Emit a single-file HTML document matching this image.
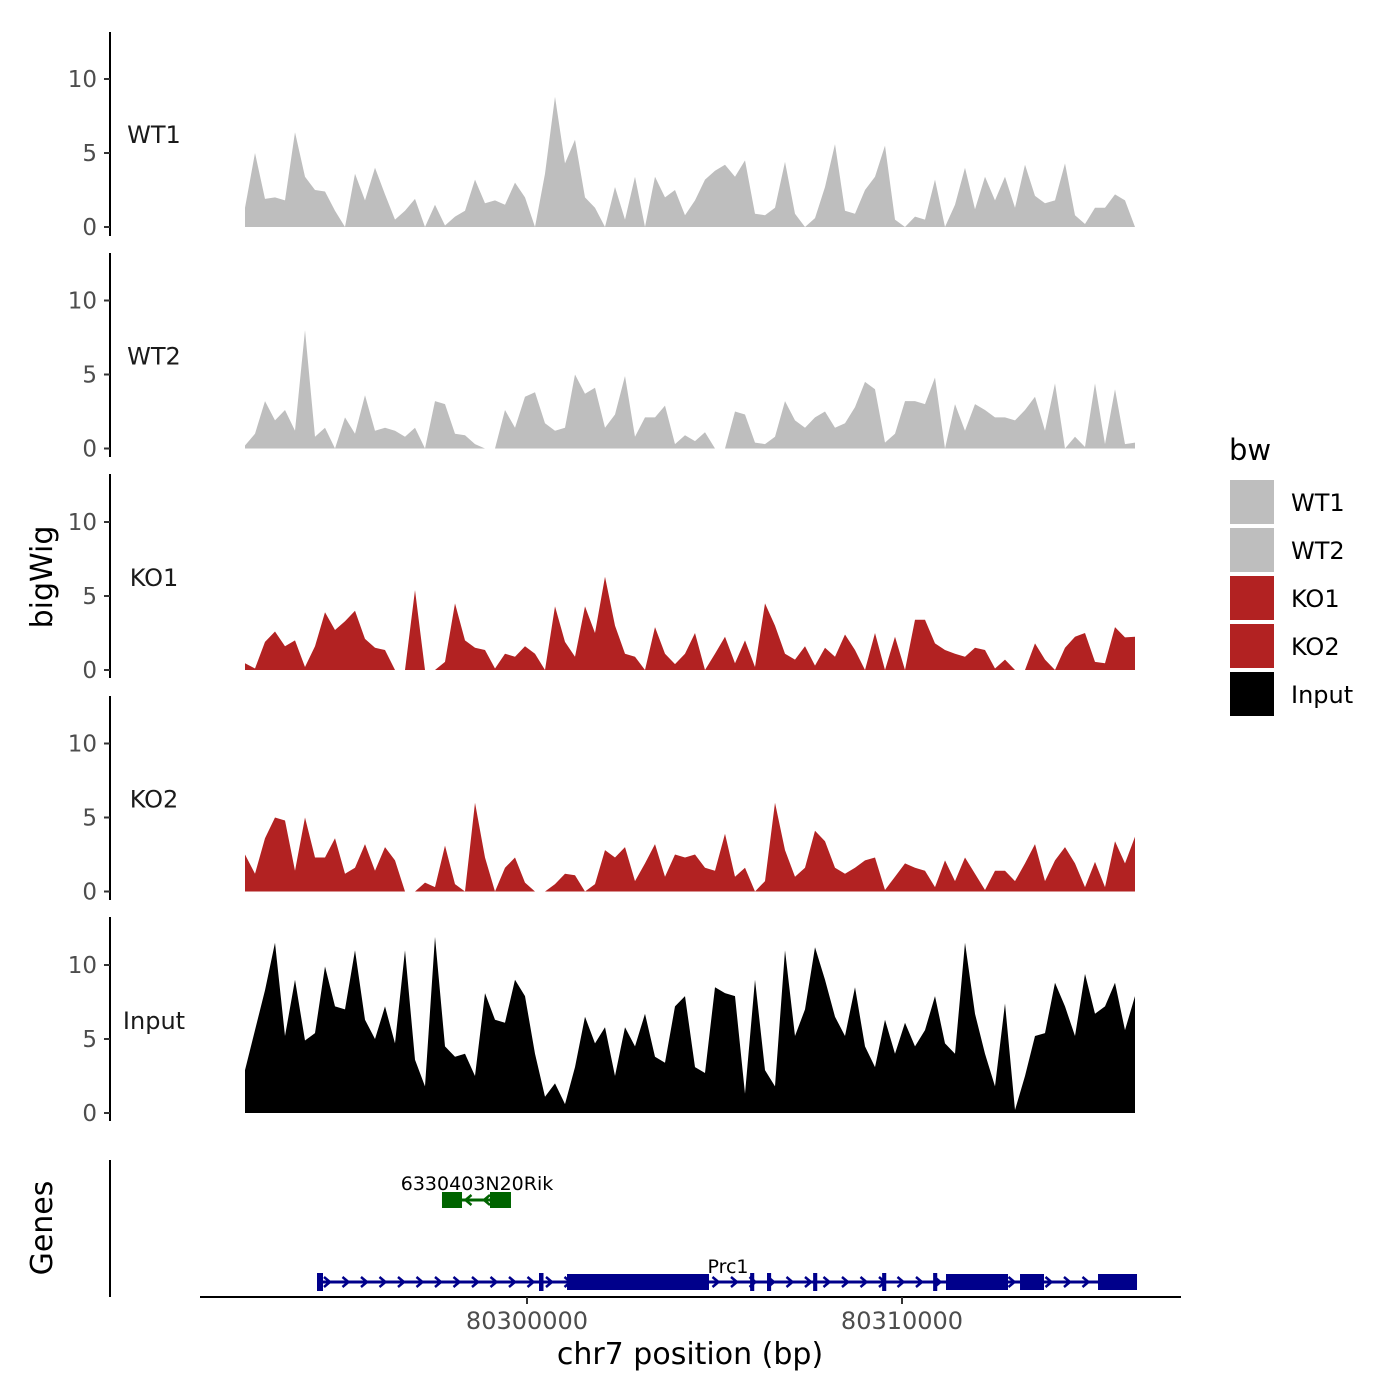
<!DOCTYPE html>
<html><head><meta charset="utf-8">
<style>
html,body{margin:0;padding:0;background:#fff;}
svg{display:block;font-family:"DejaVu Sans","Liberation Sans",sans-serif;}
</style></head>
<body>
<svg id="chart" width="1400" height="1400" viewBox="0 0 1400 1400" xmlns="http://www.w3.org/2000/svg">
<rect width="1400" height="1400" fill="#fff"/>
<text x="52" y="577" font-size="30" fill="#000" text-anchor="middle" transform="rotate(-90 52 577)">bigWig</text>
<text x="52" y="1228" font-size="30" fill="#000" text-anchor="middle" transform="rotate(-90 52 1228)">Genes</text>
<text x="690" y="1364" font-size="30" fill="#000" text-anchor="middle">chr7 position (bp)</text>
<g id="legend">
<text x="1229" y="460" font-size="29" fill="#000">bw</text>
</g>
</svg>
<script>
// ---- data ----
const trackNames = ["WT1","WT2","KO1","KO2","Input"];
const trackColors = ["#bebebe","#bebebe","#b22222","#b22222","#000000"];
const binStart = 80292480;
const binSize = 266.67;
const wt1Values = [1.3,5,1.9,2.0,1.8,6.4,3.4,2.5,2.4,1.1,0,3.6,1.8,4,2.2,0.5,1.1,1.9,0,1.5,0.1,0.7,1.1,3.2,1.6,1.8,1.5,3.0,2.0,0,3.6,8.8,4.3,5.9,2.0,1.3,0,2.7,0.5,3.4,0,3.4,2,2.5,0.8,1.8,3.2,3.8,4.2,3.4,4.5,0.9,0.8,1.3,4.4,0.9,0,0.6,2.7,5.6,1.1,0.9,2.5,3.4,5.5,0.5,0,0.7,0.5,3.2,0,1.5,4,1.2,3.4,1.8,3.4,1.3,4.2,2.1,1.6,1.8,4.3,0.8,0.2,1.3,1.3,2.2,1.8,0];
const wt2Values = [0.2,1.0,3.2,1.9,2.6,1.2,8.0,0.8,1.4,0,2.1,1.0,3.6,1.2,1.4,1.2,0.8,1.4,0,3.2,3.0,1.0,0.9,0.3,0,0,2.6,1.4,3.5,3.8,1.7,1.2,1.4,5.0,3.7,4.1,1.4,2.3,4.9,0.8,2.1,2.1,2.9,0.3,0.9,0.5,1.1,0,0,2.5,2.3,0.4,0.3,0.8,3.2,1.9,1.4,2.1,2.5,1.4,1.7,2.8,4.5,4.0,0.4,1.0,3.2,3.2,3.0,4.8,0,3.0,1.2,3.0,2.6,2.1,2.1,1.9,2.6,3.5,1.2,4.4,0,0.8,0.1,4.4,0.3,4.0,0.3,0.4];
const ko1Values = [0.45,0.1,1.9,2.6,1.6,2.0,0.2,1.6,3.9,2.7,3.3,4.0,2.1,1.5,1.35,0,0,5.4,0,0,0.55,4.5,2.0,1.5,1.35,0.1,1.1,0.9,1.6,1.1,0,4.3,1.9,0.9,4.3,2.5,6.3,3.0,1.1,0.9,0,2.9,1.1,0.4,1.1,2.5,0,1.1,2.25,0.45,2.0,0.2,4.5,3.0,1.1,0.7,1.6,0.3,1.5,0.9,2.4,1.35,0,2.5,0,2.25,0,3.4,3.4,1.8,1.35,1.1,0.9,1.5,1.35,0.1,0.7,0,0,1.8,0.7,0,1.5,2.25,2.5,0.55,0.45,2.9,2.2,2.25];
const ko2Values = [2.5,1.2,3.6,5.0,4.8,1.4,5.0,2.3,2.3,3.6,1.2,1.6,3.2,1.4,3.0,2.1,0,0,0.6,0.3,3.1,0.5,0,6.0,2.3,0,1.6,2.3,0.6,0,0,0.5,1.2,1.1,0,0.5,2.8,2.3,3.0,0.7,1.9,3.2,1.0,2.5,2.3,2.5,1.6,1.4,3.9,1.0,1.6,0,0.7,6.0,2.8,1.0,1.6,4.1,3.4,1.6,1.2,1.6,2.1,2.3,0.1,1.0,1.9,1.6,1.4,0.3,2.1,0.7,2.3,1.2,0.1,1.4,1.4,0.7,1.9,3.2,0.7,2.1,3.0,1.9,0.3,2.0,0.3,3.4,1.9,3.7];
const inputValues = [2.9,5.6,8.3,11.5,5.2,9.0,4.9,5.4,9.9,7.2,7.0,11.0,6.3,5.0,7.2,4.7,11.0,3.6,1.8,11.9,4.5,3.8,4.0,2.5,8.1,6.3,6.1,9.0,7.9,4.0,1.1,2.0,0.6,3.1,6.5,4.7,5.8,2.5,5.8,4.5,6.7,3.8,3.4,7.2,7.9,3.1,2.7,8.5,8.1,7.9,1.3,9.0,2.9,1.8,11.0,5.2,7.0,11.2,9.0,6.5,5.2,8.5,4.5,3.1,6.3,4.0,6.1,4.5,5.6,7.9,4.7,4.0,11.5,6.7,4.0,1.8,7.4,0.2,2.5,5.2,5.4,8.8,7.2,5.2,9.4,6.7,7.2,8.8,5.6,7.9];
const yTicks = [0,5,10];
const xTicks = [80300000,80310000];
const xTickLabels = ["80300000","80310000"];
const prc1Exons = [[80294400,80294560],[80300320,80300440],[80301067,80304853],[80305950,80306060],[80306400,80306510],[80307630,80307740],[80309470,80309580],[80310830,80310940],[80311173,80312827],[80313147,80313787],[80315227,80316267]];
const prc1Span = [80294453,80316267];
const rikExons = [[80297733,80298267],[80299013,80299573]];
const rikSpan = [80297733,80299573];
// ---- scales ----
const svg = document.getElementById('chart');
const NS = 'http://www.w3.org/2000/svg';
function xScale(bp){ return 527 + (bp - 80300000) / 1000 * 37.5; }
const panelBase = [227, 448.5, 670, 891.5, 1113];
function yScale(v, p){ return panelBase[p] - v * 14.8; }
function mk(tag, attrs){ const e = document.createElementNS(NS, tag); for (const k in attrs) e.setAttribute(k, attrs[k]); svg.appendChild(e); return e; }
const allValues = [wt1Values, wt2Values, ko1Values, ko2Values, inputValues];
const axisTop = [32,253,474,696,917];
for (let p = 0; p < 5; p++) {
  const vals = allValues[p];
  let d = 'M' + xScale(binStart).toFixed(1) + ',' + panelBase[p];
  vals.forEach((v, i) => { d += ' L' + xScale(binStart + i * binSize).toFixed(1) + ',' + yScale(v, p).toFixed(1); });
  d += ' L' + xScale(binStart + (vals.length - 1) * binSize).toFixed(1) + ',' + panelBase[p] + ' Z';
  const area = mk('path', {d: d, fill: trackColors[p]});
  
  
  const ax = mk('line', {x1: 110, x2: 110, y1: axisTop[p], y2: axisTop[p] + 204, stroke: '#000', 'stroke-width': 2});
  
  
  yTicks.forEach(t => {
    const y = yScale(t, p);
    const tk = mk('line', {x1: 104, x2: 110, y1: y, y2: y, stroke: '#333', 'stroke-width': 2});
    
    
    const tl = mk('text', {x: 97, y: y + 8, 'font-size': 23, fill: '#4d4d4d', 'text-anchor': 'end'});
    tl.textContent = String(t);
    
    
  });
  const lab = mk('text', {x: 154, y: panelBase[p] - 84, 'font-size': 24, fill: '#1a1a1a', 'text-anchor': 'middle'});
  lab.textContent = trackNames[p];
  
  
}
// gene track
const gax = mk('line', {x1: 110, x2: 110, y1: 1160, y2: 1297, stroke: '#000', 'stroke-width': 2});


function drawGene(span, exons, y, color, dir, name, labelX, labelY) {
  const x1 = xScale(span[0]), x2 = xScale(span[1]);
  const ln = mk('line', {x1: x1, x2: x2, y1: y, y2: y, stroke: color, 'stroke-width': 3});
  
  
  for (let x = x1 + 8; x < x2 - 4; x += 18.5) {
    const ch = mk('path', {d: dir > 0 ? `M${x-3},${y-5} L${x+3},${y} L${x-3},${y+5}` : `M${x+3},${y-5} L${x-3},${y} L${x+3},${y+5}`, stroke: color, 'stroke-width': 2.5, fill: 'none'});
    
    
  }
  exons.forEach(e => {
    const a = xScale(e[0]), b = xScale(e[1]);
    const w = Math.max(b - a, 4);
    const thick = (b - a) > 10;
    const r = mk('rect', {x: a, y: thick ? y - 8 : y - 9, width: w, height: thick ? 16 : 18, fill: color});
    
    
  });
  const t = mk('text', {x: labelX, y: labelY, 'font-size': 19, fill: '#000', 'text-anchor': 'middle'});
  t.textContent = name;
  
  
}
drawGene(rikSpan, rikExons, 1200, '#006400', -1, '6330403N20Rik', 477, 1190);
drawGene(prc1Span, prc1Exons, 1282, '#00008b', 1, 'Prc1', 728, 1273);
// x axis
const xax = mk('line', {x1: 200, x2: 1181, y1: 1297, y2: 1297, stroke: '#000', 'stroke-width': 2});


xTicks.forEach((t, i) => {
  const x = xScale(t);
  const tk = mk('line', {x1: x, x2: x, y1: 1297, y2: 1304, stroke: '#333', 'stroke-width': 2});
  
  
  const tl = mk('text', {x: x, y: 1329, 'font-size': 24, fill: '#4d4d4d', 'text-anchor': 'middle'});
  tl.textContent = xTickLabels[i];
  
  
});
// legend
trackNames.forEach((n, i) => {
  const y = 480 + i * 48;
  const r = mk('rect', {x: 1230, y: y, width: 44, height: 44, fill: trackColors[i]});
  
  
  const t = mk('text', {x: 1291, y: y + 31, 'font-size': 24, fill: '#000'});
  t.textContent = n;
  
  
});
</script>
</body></html>
